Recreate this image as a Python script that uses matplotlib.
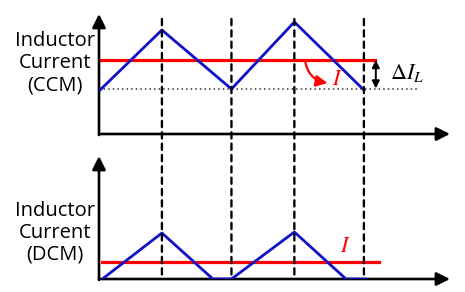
import matplotlib
matplotlib.use("Agg")
import matplotlib.pyplot as plt
from matplotlib.patches import ConnectionPatch

plt.rcParams['mathtext.fontset'] = 'stix'

# switching instants (dashed guides), arbitrary time units
t_switch = [0.95, 2.0, 2.95, 4.0]

# CCM inductor current
ccm_t = [0.0, 0.95, 2.0, 2.95, 4.0]
ccm_i = [0.43, 1.04, 0.45, 1.12, 0.44]
ccm_avg = 0.74
ccm_min = 0.445

# DCM inductor current
dcm_t = [0.05, 0.95, 1.72, 2.0, 2.95, 3.73, 4.02]
dcm_i = [0.0, 0.46, 0.0, 0.0, 0.47, 0.0, 0.0]
dcm_avg = 0.17

BLUE = '#1010c8'
RED = '#ff0000'
T_END = 5.3

fig = plt.figure(figsize=(4.65, 2.92), dpi=100)
ax_top = fig.add_axes([0.2129, 0.5411, 0.7548, 0.411])
ax_bot = fig.add_axes([0.2129, 0.0445, 0.7548, 0.4212])
ax_top.set_xlim(0, T_END)
ax_top.set_ylim(0, 1.2)
ax_bot.set_xlim(0, T_END)
ax_bot.set_ylim(0, 1.23)
for ax in (ax_top, ax_bot):
    ax.axis('off')


def draw_axes(ax, ytop):
    arrow = dict(arrowstyle='-|>', lw=1.9, color='black', mutation_scale=20,
                 shrinkA=0, shrinkB=0)
    ax.annotate('', xy=(0, ytop), xytext=(0, -0.01), arrowprops=arrow,
                annotation_clip=False)
    ax.annotate('', xy=(T_END, 0), xytext=(0, 0), arrowprops=arrow,
                annotation_clip=False)


draw_axes(ax_top, 1.2)
draw_axes(ax_bot, 1.23)

# dashed guides spanning both panels
for t in t_switch:
    con = ConnectionPatch(xyA=(t, 1.15), coordsA=ax_top.transData,
                          xyB=(t, 0), coordsB=ax_bot.transData,
                          color='black', lw=1.7, linestyle=(0, (2.6, 2.2)))
    fig.add_artist(con)

# top panel: CCM
ax_top.plot([0.0, 4.8], [ccm_min, ccm_min], color='#333333', lw=1.1,
            linestyle=(0, (1, 2)))
ax_top.plot([0.03, 4.17], [ccm_avg, ccm_avg], color=RED, lw=2.3)
ax_top.plot(ccm_t, ccm_i, color=BLUE, lw=2.0, zorder=3)
ax_top.annotate('', xy=(4.18, ccm_min + 0.01), xytext=(4.18, ccm_avg),
                arrowprops=dict(arrowstyle='<|-|>', lw=1.4, color='black',
                                mutation_scale=11, shrinkA=0, shrinkB=0))
ax_top.text(4.4, 0.61, r'$\Delta I_L$', fontsize=16, ha='left', va='center')
ax_top.annotate('', xy=(3.45, 0.51), xytext=(3.11, 0.735),
                arrowprops=dict(arrowstyle='-|>', lw=1.6, color=RED,
                                mutation_scale=17, shrinkA=0, shrinkB=0,
                                connectionstyle='arc3,rad=0.35'))
ax_top.text(3.52, 0.55, r'$I$', fontsize=16, color=RED, ha='left', va='center')

# bottom panel: DCM
ax_bot.plot([0.05, 4.23], [dcm_avg, dcm_avg], color=RED, lw=2.3)
ax_bot.plot(dcm_t, dcm_i, color=BLUE, lw=2.0, zorder=3)
ax_bot.text(3.72, 0.33, r'$I$', fontsize=16, color=RED, ha='center', va='center')

# side labels
fig.text(55 / 465, 1 - 63 / 292, 'Inductor\nCurrent\n(CCM)', fontsize=14.5,
         family='Open Sans', ha='center', va='center', linespacing=1.15)
fig.text(55 / 465, 1 - 233 / 292, 'Inductor\nCurrent\n(DCM)', fontsize=14.5,
         family='Open Sans', ha='center', va='center', linespacing=1.12)

fig.savefig('out.png', dpi=100)
